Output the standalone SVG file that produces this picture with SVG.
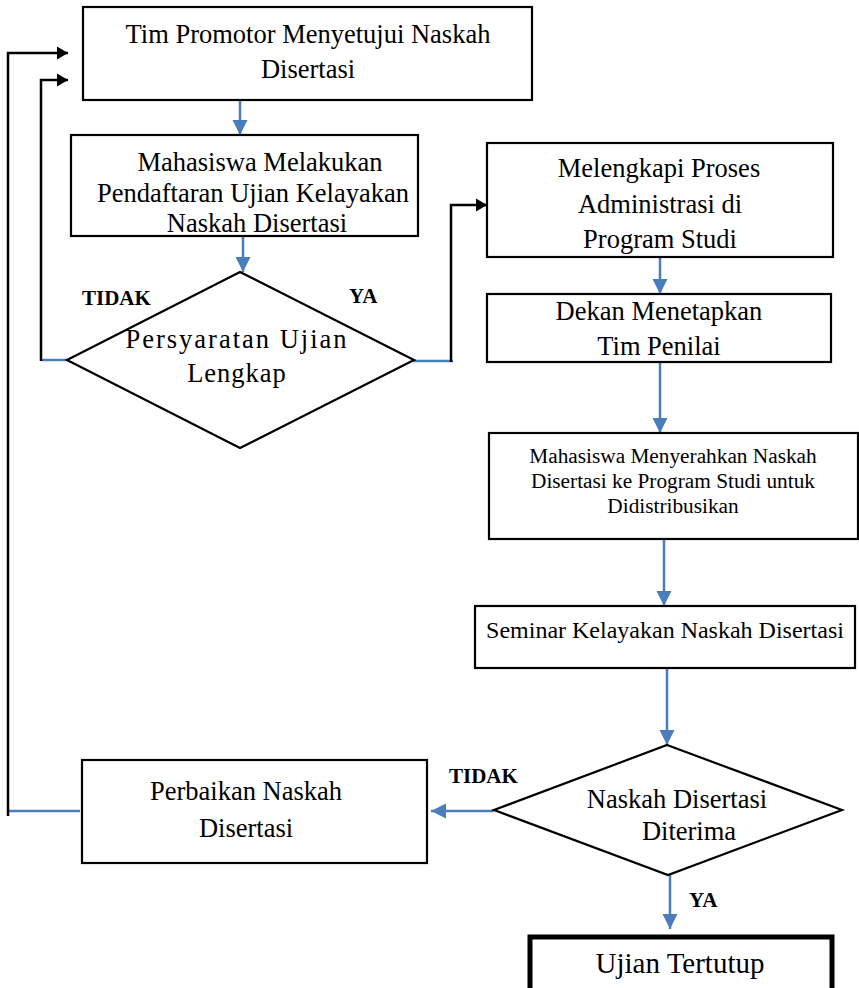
<svg xmlns="http://www.w3.org/2000/svg" width="859" height="988" viewBox="0 0 859 988">
<style>
.box{fill:#fff;stroke:#000;stroke-width:2.2}
.t{font-family:"Liberation Serif","Times New Roman",serif;font-size:26.5px;fill:#000;text-anchor:middle}
.lbl{font-family:"Liberation Serif","Times New Roman",serif;font-size:21px;font-weight:bold;fill:#000}
.blue{fill:none;stroke:#4A7EBB;stroke-width:2.5}
.blk{fill:none;stroke:#000;stroke-width:2.5}
</style>
<defs>
<marker id="ab" markerUnits="userSpaceOnUse" markerWidth="16" markerHeight="16" viewBox="0 0 16 16" refX="15" refY="8" orient="auto">
<path d="M0,0.5 L15,8 L0,15.5 Z" fill="#4A7EBB"/>
</marker>
<marker id="ak" markerUnits="userSpaceOnUse" markerWidth="12" markerHeight="14" viewBox="0 0 12 14" refX="11" refY="7" orient="auto">
<path d="M0,0.5 L11,7 L0,13.5 Z" fill="#000"/>
</marker>
</defs>
<rect width="859" height="988" fill="#fff"/>
<g id="connectors">
<line class="blue" x1="240" y1="100" x2="240" y2="135" marker-end="url(#ab)"/>
<line class="blue" x1="243" y1="236" x2="243" y2="272" marker-end="url(#ab)"/>
<line class="blue" x1="41" y1="360" x2="67" y2="360"/>
<polyline class="blk" points="41,361 41,80 68,80" marker-end="url(#ak)"/>
<line class="blue" x1="413" y1="361" x2="453" y2="361"/>
<polyline class="blk" points="451,362 451,205 487,205" marker-end="url(#ak)"/>
<line class="blue" x1="660" y1="257" x2="660" y2="294" marker-end="url(#ab)"/>
<line class="blue" x1="660" y1="362" x2="660" y2="433" marker-end="url(#ab)"/>
<line class="blue" x1="664" y1="539" x2="664" y2="606" marker-end="url(#ab)"/>
<line class="blue" x1="667" y1="668" x2="667" y2="745" marker-end="url(#ab)"/>
<line class="blue" x1="494" y1="811" x2="431" y2="811" marker-end="url(#ab)"/>
<line class="blue" x1="670" y1="875" x2="670" y2="929" marker-end="url(#ab)"/>
<line class="blue" x1="80" y1="811" x2="8" y2="811"/>
<polyline class="blk" points="8,816 8,53 68,53" marker-end="url(#ak)"/>
</g>
<g id="n1">
<rect class="box" x="83" y="7" width="449" height="93"/>
<text class="t" x="308" y="43">Tim Promotor Menyetujui Naskah</text>
<text class="t" x="308" y="78">Disertasi</text>
</g>
<g id="n2">
<rect class="box" x="71" y="135" width="347" height="101"/>
<text class="t" x="260" y="171">Mahasiswa Melakukan</text>
<text class="t" x="253" y="202">Pendaftaran Ujian Kelayakan</text>
<text class="t" x="257" y="232">Naskah Disertasi</text>
</g>
<g id="d1">
<polygon points="240,272 414,360 240,448 67,360" fill="#fff" stroke="#000" stroke-width="2.2"/>
<text class="t" x="237" y="348" letter-spacing="2">Persyaratan Ujian</text>
<text class="t" x="237" y="382" letter-spacing="1">Lengkap</text>
</g>
<text class="lbl" x="82" y="305">TIDAK</text>
<text class="lbl" x="349" y="303">YA</text>
<g id="n3">
<rect class="box" x="487" y="143" width="346" height="114"/>
<text class="t" x="659" y="177">Melengkapi Proses</text>
<text class="t" x="660" y="213">Administrasi di</text>
<text class="t" x="660" y="248">Program Studi</text>
</g>
<g id="n4">
<rect class="box" x="487" y="294" width="344" height="68"/>
<text class="t" x="659" y="320">Dekan Menetapkan</text>
<text class="t" x="659" y="355">Tim Penilai</text>
</g>
<g id="n5">
<rect class="box" x="489" y="433" width="369" height="106" stroke-width="2.6"/>
<text class="t" x="673" y="463" style="font-size:21.3px">Mahasiswa Menyerahkan Naskah</text>
<text class="t" x="673" y="488" style="font-size:21.3px">Disertasi ke Program Studi untuk</text>
<text class="t" x="673" y="513" style="font-size:21.3px">Didistribusikan</text>
</g>
<g id="n6">
<rect class="box" x="475" y="606" width="380" height="62" stroke-width="2.6"/>
<text class="t" x="665" y="638" style="font-size:24px">Seminar Kelayakan Naskah Disertasi</text>
</g>
<g id="d2">
<polygon points="667,745 842,810 668,875 494,810" fill="#fff" stroke="#000" stroke-width="2.2"/>
<text class="t" x="677" y="808">Naskah Disertasi</text>
<text class="t" x="689" y="840">Diterima</text>
</g>
<text class="lbl" x="449" y="783">TIDAK</text>
<text class="lbl" x="689" y="907">YA</text>
<g id="n7">
<rect class="box" x="82" y="760" width="345" height="103" stroke-width="2.6"/>
<text class="t" x="246" y="800">Perbaikan Naskah</text>
<text class="t" x="246" y="837">Disertasi</text>
</g>
<g id="n8">
<rect x="530" y="937" width="302" height="58" fill="#fff" stroke="#000" stroke-width="5"/>
<text class="t" x="680" y="973" style="font-size:29px">Ujian Tertutup</text>
</g>
</svg>
